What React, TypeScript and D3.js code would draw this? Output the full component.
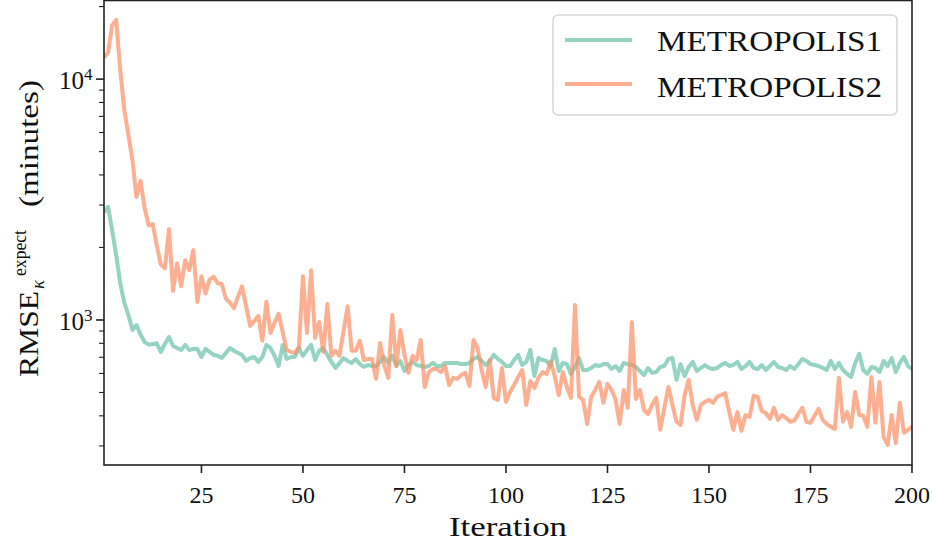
import React from 'react';
import * as d3 from 'd3';

const iterations: number[] = d3.range(1, 201);

const metropolis1: number[] = [
  2800, 2950, 2360, 1860, 1420, 1180, 1050, 910, 953, 870,
  810, 790, 795, 800, 737, 795, 850, 780, 765, 751,
  788, 751, 758, 758, 702, 758, 737, 716, 710, 695,
  730, 765, 745, 730, 716, 676, 695, 702, 670, 702,
  788, 765, 710, 644, 788, 689, 702, 702, 765, 710,
  751, 788, 682, 745, 765, 716, 670, 632, 663, 695,
  676, 663, 689, 656, 638, 650, 644, 644, 670, 702,
  663, 710, 644, 676, 614, 650, 670, 650, 644, 638,
  644, 663, 644, 644, 663, 663, 663, 663, 656, 656,
  663, 689, 702, 676, 650, 676, 716, 689, 670, 644,
  644, 682, 716, 650, 670, 751, 585, 695, 682, 676,
  644, 758, 614, 663, 656, 597, 638, 695, 620, 620,
  632, 650, 644, 656, 656, 626, 644, 614, 663, 656,
  650, 638, 614, 591, 632, 603, 608, 638, 644, 689,
  695, 564, 656, 585, 638, 670, 614, 632, 650, 632,
  626, 632, 650, 663, 644, 650, 670, 626, 644, 670,
  632, 626, 650, 620, 644, 670, 638, 632, 620, 644,
  626, 656, 689, 676, 656, 650, 644, 632, 620, 676,
  626, 663, 620, 597, 580, 663, 723, 620, 597, 638,
  632, 608, 676, 644, 695, 608, 663, 702, 644, 626,
];

const metropolis2: number[] = [
  12300, 12900, 16700, 17600, 10900, 7440, 5860, 4610, 3240, 3780,
  2920, 2470, 2500, 2040, 1700, 1640, 2380, 1320, 1720, 1380,
  1770, 1610, 1950, 1190, 1520, 1290, 1470, 1510, 1420, 1410,
  1230, 1180, 1120, 1250, 1380, 1140, 945, 990, 1040, 820,
  1190, 883, 972, 1060, 892, 751, 737, 730, 772, 1520,
  883, 1610, 842, 981, 737, 1165, 710, 745, 710, 900,
  1140, 745, 745, 820, 682, 689, 689, 570, 802, 650,
  575, 1050, 644, 909, 716, 603, 710, 682, 826, 527,
  608, 626, 626, 608, 644, 537, 575, 570, 591, 603,
  532, 826, 765, 620, 527, 682, 475, 466, 632, 457,
  502, 537, 580, 620, 444, 558, 522, 575, 608, 597,
  670, 585, 488, 608, 527, 475, 1154, 480, 466, 370,
  480, 512, 553, 453, 543, 512, 466, 370, 512, 432,
  981, 470, 512, 423, 407, 444, 475, 350, 432, 527,
  444, 378, 367, 488, 564, 444, 385, 444, 457, 466,
  453, 480, 488, 497, 415, 350, 415, 347, 403, 396,
  484, 480, 419, 411, 389, 432, 385, 403, 392, 378,
  382, 407, 432, 378, 374, 400, 428, 385, 370, 360,
  353, 575, 378, 415, 360, 502, 403, 400, 360, 580,
  374, 553, 327, 303, 403, 308, 453, 340, 350, 360,
];

const seriesNames: string[] = ['METROPOLIS1', 'METROPOLIS2'];
const seriesColors: string[] = ['#66c2a5', '#fc8d62'];
const xTicks: number[] = [25, 50, 75, 100, 125, 150, 175, 200];
const yMajorTicks: number[] = [1000, 10000];
const yMajorExp: string[] = ['3', '4'];
const yMinorTicks: number[] = [300, 400, 500, 600, 700, 800, 900, 2000, 3000, 4000, 5000, 6000, 7000, 8000, 9000, 20000];

const W = 933;
const H = 543;
const L = 104;
const R = 912;
const T = 0;
const B = 465;
const FONT = "'Liberation Serif', 'DejaVu Serif', serif";

export default function App() {
  const x = d3.scaleLinear().domain([1, 200]).range([L, R]);
  const y = d3.scaleLog().domain([250, 21300]).range([B, T]);
  const line = d3.line<number>()
    .x((_, i) => x(iterations[i]))
    .y((d) => y(d));
  const data = [metropolis1, metropolis2];

  return (
    <svg width={W} height={H} style={{ position: 'absolute', left: 0, top: 0, background: '#fff' }}>
      <defs>
        <clipPath id="plot">
          <rect x={L} y={T} width={R - L} height={B - T} />
        </clipPath>
      </defs>
      <rect x={0} y={0} width={W} height={H} fill="#fff" />
      <g clipPath="url(#plot)">
        {data.map((s, k) => (
          <path key={k} d={line(s) || ''} fill="none" stroke={seriesColors[k]}
            strokeOpacity={0.7} strokeWidth={4} strokeLinejoin="round" strokeLinecap="butt" />
        ))}
      </g>
      {/* spines */}
      <rect x={L} y={T + 0.5} width={R - L} height={B - T - 0.5} fill="none" stroke="#222" strokeWidth={1.6} />
      {/* x ticks */}
      {xTicks.map((t) => (
        <g key={t}>
          <line x1={x(t)} x2={x(t)} y1={B} y2={B + 8} stroke="#222" strokeWidth={1.6} />
          <text x={x(t)} y={503} textAnchor="middle" fontFamily={FONT} fontSize={24} fill="#111">{t}</text>
        </g>
      ))}
      {/* y major ticks */}
      {yMajorTicks.map((t, i) => (
        <g key={t}>
          <line x1={L - 8} x2={L} y1={y(t)} y2={y(t)} stroke="#222" strokeWidth={1.6} />
          <text x={L - 20} y={y(t) + 10} textAnchor="end" fontFamily={FONT} fontSize={25} fill="#111">10</text>
          <text x={L - 20} y={y(t) + 1} textAnchor="start" fontFamily={FONT} fontSize={17} fill="#111">{yMajorExp[i]}</text>
        </g>
      ))}
      {yMinorTicks.map((t) => (
        <line key={t} x1={L - 5} x2={L} y1={y(t)} y2={y(t)} stroke="#222" strokeWidth={1.1} />
      ))}
      {/* x label */}
      <text x={(L + R) / 2} y={536} textAnchor="middle" fontFamily={FONT} fontSize={28} fill="#111"
        textLength={118} lengthAdjust="spacingAndGlyphs">Iteration</text>
      {/* y label */}
      <g transform="translate(38,377) rotate(-90)" fontFamily={FONT} fill="#111">
        <text x={0} y={0} fontSize={28} textLength={86} lengthAdjust="spacingAndGlyphs">RMSE</text>
        <text x={101} y={-12} fontSize={19} textLength={46} lengthAdjust="spacingAndGlyphs">expect</text>
        <text x={88} y={6} fontSize={19} fontStyle="italic">κ</text>
        <text x={170} y={0} fontSize={28} textLength={127} lengthAdjust="spacingAndGlyphs">(minutes)</text>
      </g>
      {/* legend */}
      <rect x={553} y={15} width={344} height={100} rx={5} ry={5} fill="#fff" fillOpacity={0.8} stroke="#d6d6d6" strokeWidth={1.5} />
      {seriesNames.map((n, k) => (
        <g key={n}>
          <line x1={565} x2={632} y1={40 + k * 44} y2={40 + k * 44} stroke={seriesColors[k]} strokeOpacity={0.7} strokeWidth={4} />
          <text x={657} y={51 + k * 46} fontFamily={FONT} fontSize={30} fill="#111"
            textLength={225} lengthAdjust="spacingAndGlyphs">{n}</text>
        </g>
      ))}
    </svg>
  );
}
